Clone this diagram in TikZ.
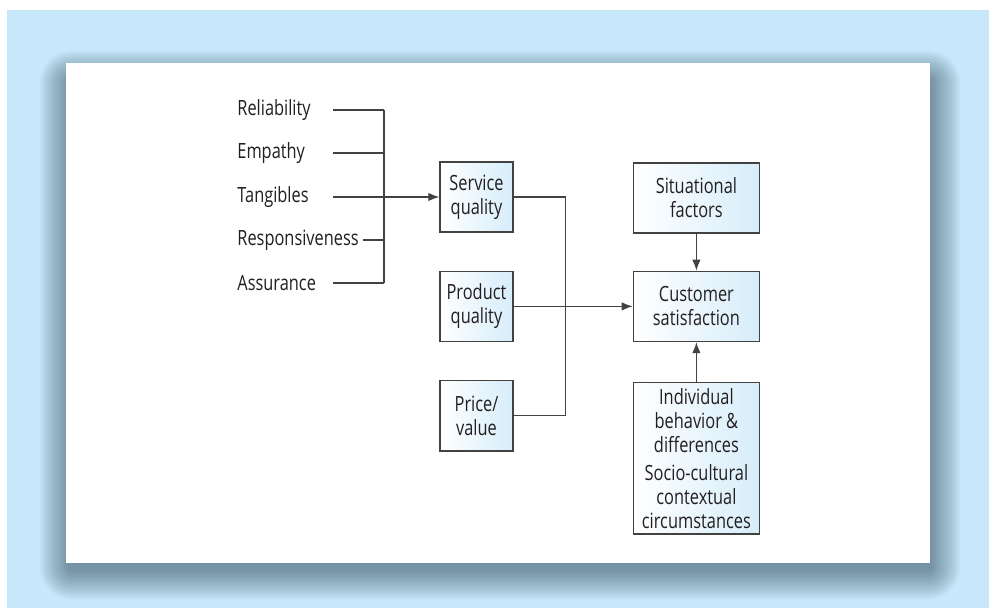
\documentclass[tikz,border=0pt]{standalone}
\usepackage{fontspec}
\setmainfont{Open Sans}[FakeStretch=0.78]
\usetikzlibrary{arrows.meta,positioning}
\definecolor{pageblue}{RGB}{198,232,250}
\definecolor{shadowgrey}{RGB}{20,45,60}
\definecolor{boxblue}{RGB}{214,237,250}
\definecolor{ink}{RGB}{35,31,32}

\begin{document}
\begin{tikzpicture}[x=0.5pt,y=-0.5pt,
font=\fontsize{10.5}{12}\selectfont,text=ink,
box/.style={draw=ink!85,line width=.7pt,left color=white,right color=boxblue,align=center,minimum width=36.5pt,minimum height=35pt,inner sep=1pt},
widebox/.style={box,minimum width=63pt},
factor/.style={anchor=west,inner sep=2pt},
line/.style={draw=ink!85,line width=.65pt},
arr/.style={line,-{Latex[length=5.5pt,width=4.2pt]}}]
% page and card with soft shadow
\useasboundingbox (0,0) rectangle (989,608);
\fill[pageblue] (7,10) rectangle (989,608);
\foreach \r [evaluate=\r as \rc using (\r+4)/2] in {0,2,...,28}
  \fill[shadowgrey,fill opacity=.034,rounded corners=\rc pt] (68-\r,79-\r) rectangle (932+\r,571+\r);
\fill[white] (66,63) rectangle (930,563);
% service dimensions
\node[factor](reliability) at (233,110){Reliability};
\node[factor](empathy) at (233,153){Empathy};
\node[factor](tangibles) at (233,197){Tangibles};
\node[factor](responsiveness) at (233,240){Responsiveness};
\node[factor](assurance) at (233,283){Assurance};
\coordinate (bus) at (384,197);
% boxes
\node[box](service) at (476.5,197){Service\\quality};
\node[box,below=19pt of service](product){Product\\quality};
\node[box,below=19pt of product](price){Price/\\value};
\node[widebox,right=59.5pt of product](customer){Customer\\satisfaction};
\node[widebox,above=18.5pt of customer](situational){Situational\\factors};
\node[widebox,below=20pt of customer,minimum height=75.5pt](individual){Individual\\behavior \&\\differences\\[2pt]Socio-cultural\\contextual\\circumstances};
% connectors
\draw[line](reliability.west)++(100,0)--(reliability-|bus);
\draw[line](empathy.west)++(100,0)--(empathy-|bus);
\draw[line](responsiveness.east)--(responsiveness-|bus);
\draw[line](assurance.west)++(100,0)--(assurance-|bus);
\draw[line](reliability-|bus)--(assurance-|bus);
\draw[arr](tangibles.west)++(100,0)--(service.west);
\draw[line](service.east)-|([xshift=26pt]product.east)|-(price.east);
\draw[arr](product.east)--(customer.west);
\draw[arr](situational)--(customer);
\draw[arr](individual)--(customer);
\end{tikzpicture}
\end{document}
